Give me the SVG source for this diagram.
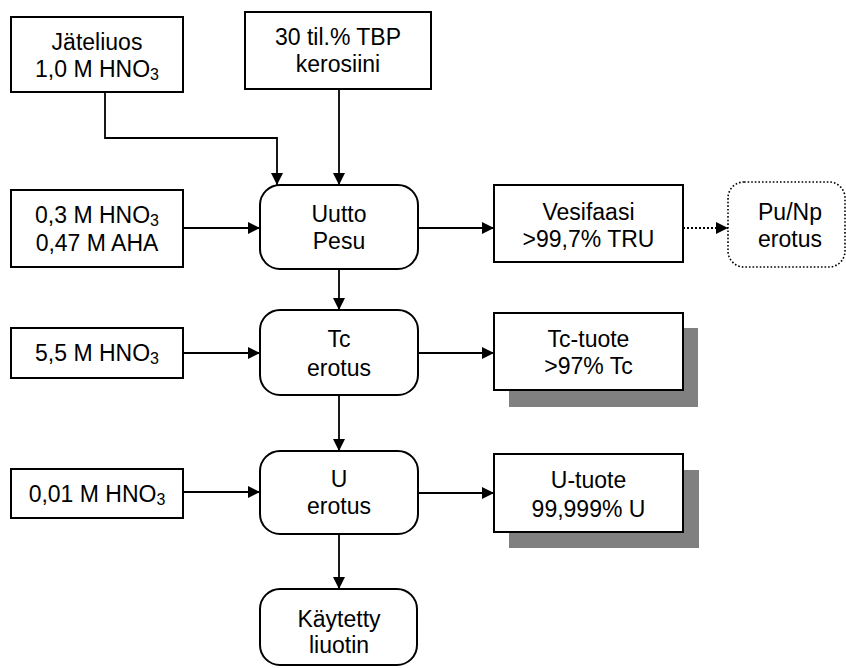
<svg xmlns="http://www.w3.org/2000/svg" width="846" height="668" viewBox="0 0 846 668">
  <style>
    .box { fill: #fff; stroke: #000; stroke-width: 2; }
    .dot { fill: #fff; stroke: #000; stroke-width: 1.6; stroke-dasharray: 1.6 2; }
    .shadow { fill: #808080; }
    .lbl { font-family: "Liberation Sans", Arial, sans-serif; font-size: 23px; fill: #000; text-anchor: middle; }
    .sub { font-size: 16px; }
    .wire { fill: none; stroke: #000; stroke-width: 1.8; }
    .dwire { fill: none; stroke: #000; stroke-width: 1.8; stroke-dasharray: 2 2; }
  </style>
  <defs>
    <marker id="arrow" markerUnits="userSpaceOnUse" markerWidth="12" markerHeight="12" refX="12" refY="6" orient="auto">
      <path d="M0,0 L12,6 L0,12 z" fill="#000"/>
    </marker>
  </defs>
  <rect width="846" height="668" fill="#fff"/>

  <!-- connectors -->
  <g id="connectors">
    <polyline class="wire" points="105,92 105,138 277,138 277,185" marker-end="url(#arrow)"/>
    <line class="wire" x1="339" y1="89" x2="339" y2="185" marker-end="url(#arrow)"/>
    <line class="wire" x1="183" y1="228" x2="260" y2="228" marker-end="url(#arrow)"/>
    <line class="wire" x1="418" y1="228" x2="494" y2="228" marker-end="url(#arrow)"/>
    <line class="dwire" x1="683" y1="228" x2="728" y2="228" marker-end="url(#arrow)"/>
    <line class="wire" x1="339" y1="269" x2="339" y2="310" marker-end="url(#arrow)"/>
    <line class="wire" x1="183" y1="353" x2="260" y2="353" marker-end="url(#arrow)"/>
    <line class="wire" x1="418" y1="353" x2="494" y2="353" marker-end="url(#arrow)"/>
    <line class="wire" x1="339" y1="395" x2="339" y2="451" marker-end="url(#arrow)"/>
    <line class="wire" x1="183" y1="492" x2="260" y2="492" marker-end="url(#arrow)"/>
    <line class="wire" x1="418" y1="493" x2="494" y2="493" marker-end="url(#arrow)"/>
    <line class="wire" x1="339" y1="534" x2="339" y2="589" marker-end="url(#arrow)"/>
  </g>

  <g id="jateliuos">
    <rect class="box" x="11" y="17" width="172" height="75"/>
    <text class="lbl" x="97" y="50">Jäteliuos</text>
    <text class="lbl" x="97" y="77">1,0 M HNO<tspan class="sub" dy="3">3</tspan></text>
  </g>

  <g id="tbp">
    <rect class="box" x="245" y="12" width="186" height="77"/>
    <text class="lbl" x="338" y="45">30 til.% TBP</text>
    <text class="lbl" x="338" y="72">kerosiini</text>
  </g>

  <g id="pesuliuos">
    <rect class="box" x="11" y="190" width="172" height="77"/>
    <text class="lbl" x="97" y="223">0,3 M HNO<tspan class="sub" dy="3">3</tspan></text>
    <text class="lbl" x="97" y="251">0,47 M AHA</text>
  </g>

  <g id="uutto">
    <rect class="box" x="260" y="185" width="158" height="84" rx="20"/>
    <text class="lbl" x="339" y="222">Uutto</text>
    <text class="lbl" x="339" y="249">Pesu</text>
  </g>

  <g id="vesifaasi">
    <rect class="box" x="494" y="185" width="189" height="77"/>
    <text class="lbl" x="588.5" y="220">Vesifaasi</text>
    <text class="lbl" x="588.5" y="247">&gt;99,7% TRU</text>
  </g>

  <g id="punp">
    <rect class="dot" x="728" y="182" width="117" height="85" rx="16"/>
    <text class="lbl" x="790" y="220">Pu/Np</text>
    <text class="lbl" x="790" y="247">erotus</text>
  </g>

  <g id="tc-liuos">
    <rect class="box" x="11" y="328" width="172" height="50"/>
    <text class="lbl" x="97" y="361">5,5 M HNO<tspan class="sub" dy="3">3</tspan></text>
  </g>

  <g id="tc-erotus">
    <rect class="box" x="260" y="310" width="158" height="85" rx="20"/>
    <text class="lbl" x="339" y="347">Tc</text>
    <text class="lbl" x="339" y="376">erotus</text>
  </g>

  <g id="tc-tuote">
    <rect class="shadow" x="509" y="328" width="189" height="79"/>
    <rect class="box" x="494" y="313" width="189" height="77"/>
    <text class="lbl" x="588.5" y="347">Tc-tuote</text>
    <text class="lbl" x="588.5" y="374">&gt;97% Tc</text>
  </g>

  <g id="u-liuos">
    <rect class="box" x="11" y="469" width="172" height="49"/>
    <text class="lbl" x="97" y="502">0,01 M HNO<tspan class="sub" dy="3">3</tspan></text>
  </g>

  <g id="u-erotus">
    <rect class="box" x="260" y="451" width="158" height="83" rx="20"/>
    <text class="lbl" x="339" y="487">U</text>
    <text class="lbl" x="339" y="514">erotus</text>
  </g>

  <g id="u-tuote">
    <rect class="shadow" x="509" y="470" width="190" height="78"/>
    <rect class="box" x="494" y="454" width="189" height="78"/>
    <text class="lbl" x="588.5" y="488">U-tuote</text>
    <text class="lbl" x="588.5" y="517">99,999% U</text>
  </g>

  <g id="kaytetty">
    <rect class="box" x="260" y="589" width="157" height="76" rx="20"/>
    <text class="lbl" x="339" y="627">Käytetty</text>
    <text class="lbl" x="339" y="653">liuotin</text>
  </g>
</svg>
